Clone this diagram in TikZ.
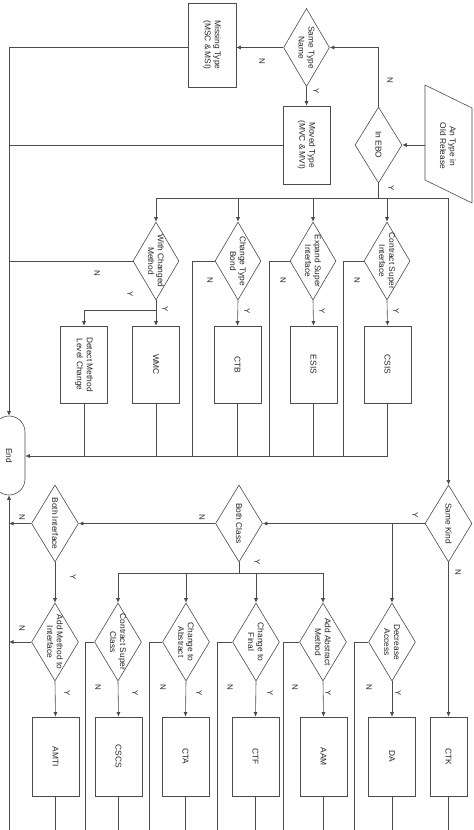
\documentclass[tikz,border=0pt]{standalone}
\usepackage{fontspec}
\setmainfont{Liberation Sans}
\usetikzlibrary{shapes.geometric,arrows.meta}
\begin{document}
\begin{tikzpicture}[x=1bp,y=-1bp,
  every node/.style={font=\fontsize{8.4}{10}\selectfont, text=black!85},
  ln/.style={draw=black!70, line width=0.6bp},
  ar/.style={ln, -{Latex[length=4.5bp,width=4bp]}},
  dia/.style={shape=diamond, draw=black!70, line width=0.6bp, minimum width=46bp, minimum height=78bp, inner sep=0pt},
  box/.style={draw=black!70, line width=0.6bp, minimum width=47bp, minimum height=78bp, inner sep=0pt},
  rt/.style={rotate=-90, align=center, inner sep=0pt},
  yn/.style={rotate=-90, inner sep=0pt, font=\fontsize{8}{9}\selectfont}
]
\clip (0,0) rectangle (474,830);
\fill[white] (0,0) rectangle (474,830);
% ---------- top part
\node[dia] (stn) at (306.5,47.5) {};
\node[rt] (stn-t) at (stn) {Same Type\\Name};
\node[box, minimum height=84bp, minimum width=48bp] (mt) at (212,45) {};
\node[rt] (mt-t) at (mt) {Missing Type\\(MSC \& MSI)};
\node[box] (mvt) at (306.5,145) {};
\node[rt] (mvt-t) at (mvt) {Moved Type\\(MVC \& MVI)};
\node[dia, minimum height=76bp, minimum width=47bp] (ebo) at (378.5,145) {};
\node[rt] (ebo-t) at (ebo) {In EBO};
\draw[ln] (425,85) -- (472,108) -- (472,203) -- (425,180) -- cycle;
\coordinate (antw) at (425,145);
\node[rt] (ant-t) at (448,146) {An Type in\\Old Release};
% ---------- End terminal
\node[draw=black!70, line width=0.6bp, rounded corners=16bp, minimum width=32bp, minimum height=79bp, inner sep=0pt] (end) at (9,455.5) {};
\node[rt] (end-t) at (end) {End};
% ---------- row 1
\node[dia] (wcmd) at (156,261) {};
\node[rt] (wcmd-t) at (wcmd) {With Changed\\Method};
\node[dia] (ctbd) at (238,261) {};
\node[rt] (ctbd-t) at (ctbd) {Change Type\\Bond};
\node[dia] (esisd) at (313,261) {};
\node[rt] (esisd-t) at (esisd) {Expand Super\\Interface};
\node[dia] (csisd) at (387,261) {};
\node[rt] (csisd-t) at (csisd) {Contract Super\\Interface};
\node[box, minimum height=77bp] (detect) at (84,364.5) {};
\node[rt] (detect-t) at (detect) {Detect Method\\Level Change};
\node[box, minimum height=77bp] (wmc) at (156,364.5) {};
\node[rt] (wmc-t) at (wmc) {WMC};
\node[box, minimum height=77bp] (ctb) at (237.5,364.5) {};
\node[rt] (ctb-t) at (ctb) {CTB};
\node[box, minimum height=77bp] (esis) at (313.5,364.5) {};
\node[rt] (esis-t) at (esis) {ESIS};
\node[box, minimum height=77bp] (csis) at (387.5,364.5) {};
\node[rt] (csis-t) at (csis) {CSIS};
% ---------- row 2
\node[dia, minimum width=47bp, minimum height=77bp] (sk) at (448.5,523.5) {};
\node[rt] (sk-t) at (sk) {Same Kind};
\node[dia, minimum width=47bp, minimum height=77bp] (bc) at (239,523.5) {};
\node[rt] (bc-t) at (bc) {Both Class};
\node[dia, minimum width=47bp, minimum height=77bp] (bi) at (55,523.5) {};
\node[rt] (bi-t) at (bi) {Both Interface};
% ---------- row 3
\node[dia, minimum width=47bp] (amtid) at (55,642) {};
\node[rt] (amtid-t) at (amtid) {Add Method to\\Interface};
\node[dia, minimum width=47bp] (cscd) at (118,642) {};
\node[rt] (cscd-t) at (cscd) {Contract Super\\Class};
\node[dia, minimum width=47bp] (ctad) at (186,642) {};
\node[rt] (ctad-t) at (ctad) {Change to\\Abstract};
\node[dia, minimum width=47bp] (ctfd) at (256,642) {};
\node[rt] (ctfd-t) at (ctfd) {Change to\\Final};
\node[dia, minimum width=47bp] (aamd) at (323,642) {};
\node[rt] (aamd-t) at (aamd) {Add Abstract\\Method};
\node[dia, minimum width=47bp] (dad) at (392,642) {};
\node[rt] (dad-t) at (dad) {Decrease\\Access};
\node[box, minimum height=79bp] (amti) at (55.5,756.5) {};
\node[rt] (amti-t) at (amti) {AMTI};
\node[box, minimum height=79bp] (cscs) at (118.5,756.5) {};
\node[rt] (cscs-t) at (cscs) {CSCS};
\node[box, minimum height=79bp] (cta) at (185.5,756.5) {};
\node[rt] (cta-t) at (cta) {CTA};
\node[box, minimum height=79bp] (ctf) at (255.5,756.5) {};
\node[rt] (ctf-t) at (ctf) {CTF};
\node[box, minimum height=79bp] (aam) at (323.5,756.5) {};
\node[rt] (aam-t) at (aam) {AAM};
\node[box, minimum height=79bp] (da) at (392,756.5) {};
\node[rt] (da-t) at (da) {DA};
\node[box, minimum height=79bp, minimum width=37bp] (ctk) at (448.5,756.5) {};
\node[rt] (ctk-t) at (ctk) {CTK};
% ---------- helper coordinates
\coordinate (busT) at (0,198);
\coordinate (busE) at (0,456);
\coordinate (busB) at (0,573);
\coordinate (bot) at (0,835);
\coordinate (wy) at (156,310);
\coordinate (ctbN) at (192,456);
\coordinate (esisN) at (269,456);
\coordinate (csisN) at (343,456);
\coordinate (cscN) at (85,835);
\coordinate (ctaN) at (149,835);
\coordinate (ctfN) at (217,835);
\coordinate (aamN) at (283,835);
\coordinate (daN) at (354,835);
% ---------- connectors top
\draw[ar] (antw) -- (ebo.east);
\draw[ar] (ebo.north) |- (stn.east);
\draw[ar] (stn.west) -- (stn.west -| mt.east);
\draw[ar] (stn.south) -- (mvt.north);
\draw[ar] (mt.west |- stn.west) -| (end.north);
\draw[ln] (mvt.west) -- (mvt.west -| end.north);
\draw[ln] (ebo.south) -- (ebo.south |- busT);
\draw[ln] (wcmd.north |- busT) -- (sk.north |- busT);
\draw[ar] (wcmd.north |- busT) -- (wcmd.north);
\draw[ar] (ctbd.north |- busT) -- (ctbd.north);
\draw[ar] (esisd.north |- busT) -- (esisd.north);
\draw[ar] (csisd.north |- busT) -- (csisd.north);
\draw[ar] (sk.north |- busT) -- (sk.north);
% ---------- row 1 connectors
\draw[ar] (wcmd.south) -- (wmc.north);
\draw[ar] (wy) -| (detect.north);
\draw[ar] (ctbd.south) -- (ctb.north);
\draw[ar] (esisd.south) -- (esis.north);
\draw[ar] (csisd.south) -- (csis.north);
\draw[ln] (wcmd.west) -- (wcmd.west -| end.north);
\draw[ln] (ctbd.west) -| (ctbN);
\draw[ln] (esisd.west) -| (esisN);
\draw[ln] (csisd.west) -| (csisN);
\draw[ln] (detect.south) -- (detect.south |- busE);
\draw[ln] (wmc.south) -- (wmc.south |- busE);
\draw[ln] (ctb.south) -- (ctb.south |- busE);
\draw[ln] (esis.south) -- (esis.south |- busE);
\draw[ln] (csis.south) -- (csis.south |- busE);
\draw[ar] (csis.south |- busE) -- (end.east |- busE);
% ---------- row 2 connectors
\draw[ar] (sk.west) -- (bc.east);
\draw[ar] (dad.north |- sk.west) -- (dad.north);
\draw[ar] (sk.south) -- (ctk.north);
\draw[ar] (bc.west) -- (bi.east);
\draw[ar] (bi.west) -- (bi.west -| end.south);
\draw[ar] (bi.south) -- (amtid.north);
\draw[ln] (bc.south) -- (bc.south |- busB);
\draw[ln] (cscd.north |- busB) -- (aamd.north |- busB);
\draw[ar] (cscd.north |- busB) -- (cscd.north);
\draw[ar] (ctad.north |- busB) -- (ctad.north);
\draw[ar] (ctfd.north |- busB) -- (ctfd.north);
\draw[ar] (aamd.north |- busB) -- (aamd.north);
% ---------- row 3 connectors
\draw[ar] (amtid.south) -- (amti.north);
\draw[ar] (cscd.south) -- (cscs.north);
\draw[ar] (ctad.south) -- (cta.north);
\draw[ar] (ctfd.south) -- (ctf.north);
\draw[ar] (aamd.south) -- (aam.north);
\draw[ar] (dad.south) -- (da.north);
\draw[ar] (amtid.west) -- (amtid.west -| end.south);
\draw[ln] (cscd.west) -| (cscN);
\draw[ln] (ctad.west) -| (ctaN);
\draw[ln] (ctfd.west) -| (ctfN);
\draw[ln] (aamd.west) -| (aamN);
\draw[ln] (dad.west) -| (daN);
\draw[ln] (amti.south) -- (amti.south |- bot);
\draw[ln] (cscs.south) -- (cscs.south |- bot);
\draw[ln] (cta.south) -- (cta.south |- bot);
\draw[ln] (ctf.south) -- (ctf.south |- bot);
\draw[ln] (aam.south) -- (aam.south |- bot);
\draw[ln] (da.south) -- (da.south |- bot);
\draw[ln] (ctk.south) -- (ctk.south |- bot);
\draw[ar] (end.south |- bot) -- (end.south);
% ---------- Y / N labels
\node[yn] (l1) at (390,80) {N};
\node[yn] (l2) at (262,61) {N};
\node[yn] (l3) at (316,91) {Y};
\node[yn] (l4) at (391,188) {Y};
\node[yn] (l5) at (97,273) {N};
\node[yn] (l6) at (130,294) {Y};
\node[yn] (l7) at (165,309) {Y};
\node[yn] (l8) at (210,280) {N};
\node[yn] (l9) at (247,311) {Y};
\node[yn] (l10) at (283,280) {N};
\node[yn] (l11) at (322,311) {Y};
\node[yn] (l12) at (357,280) {N};
\node[yn] (l13) at (396,311) {Y};
\node[yn] (l14) at (415,515) {Y};
\node[yn] (l15) at (458,572) {N};
\node[yn] (l16) at (202,517) {N};
\node[yn] (l17) at (257,562) {Y};
\node[yn] (l18) at (22,517) {N};
\node[yn] (l19) at (73,577) {Y};
\node[yn] (l20) at (22,628) {N};
\node[yn] (l21) at (98,687) {N};
\node[yn] (l22) at (163,687) {N};
\node[yn] (l23) at (230,687) {N};
\node[yn] (l24) at (295,687) {N};
\node[yn] (l25) at (369,687) {N};
\node[yn] (l26) at (67,693) {Y};
\node[yn] (l27) at (135,693) {Y};
\node[yn] (l28) at (199,693) {Y};
\node[yn] (l29) at (270,693) {Y};
\node[yn] (l30) at (328,693) {Y};
\node[yn] (l31) at (398,693) {Y};
\end{tikzpicture}
\end{document}
